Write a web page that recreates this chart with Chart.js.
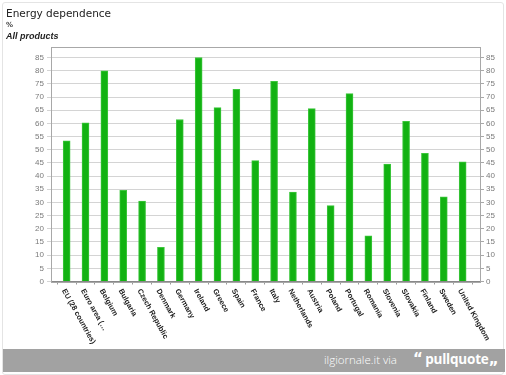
<!DOCTYPE html>
<html>
<head>
<meta charset="utf-8">
<script src="https://cdn.jsdelivr.net/npm/chart.js@4/dist/chart.umd.min.js"></script>
<style>
    html, body { margin: 0; padding: 0; background: #fff; }
    #wrap { position: relative; width: 506px; height: 375px; overflow: hidden; }
    #frame { position: absolute; left: 2px; top: 2px; width: 500px; height: 371px; border: 1px solid #e4e4e4; border-radius: 3px; }
    #chart { position: absolute; left: 0; top: 0; }
    .t { position: absolute; left: 6px; color: #222; white-space: nowrap; }
    #title { top: 7px; font: 10.5px 'DejaVu Sans', sans-serif; }
    #unit { top: 21px; font: bold 7px 'DejaVu Sans', sans-serif; color: #444; }
    #sub { top: 31px; font: bold italic 9px 'Liberation Sans', sans-serif; }
    #credit { position: absolute; left: 3px; top: 349px; width: 502px; height: 23px; background: #a2a2a2; color: #fff; white-space: nowrap; }
    #credit .via { position: absolute; left: 321px; top: 3px; font: 300 11.5px 'Open Sans', sans-serif; }
    #credit .pq { position: absolute; left: 410px; top: 1px; font: bold 13.5px 'Open Sans', sans-serif; letter-spacing: -0.2px; }
    #credit .q { font: 900 15px 'DejaVu Sans', sans-serif; letter-spacing: -1px; }
</style>
</head>
<body>
<div id="wrap">
    <div id="frame"></div>
    <canvas id="chart" width="506" height="349"></canvas>
    <div class="t" id="title">Energy dependence</div>
    <div class="t" id="unit">%</div>
    <div class="t" id="sub">All products</div>
    <div id="credit"><span class="via">ilgiornale.it via</span><span class="pq"><span class="q">“</span> pullquote<span class="q">„</span></span></div>
</div>
<script>
const countries = [
    'EU (28 countries)', 'Euro area (…', 'Belgium', 'Bulgaria', 'Czech Republic', 'Denmark',
    'Germany', 'Ireland', 'Greece', 'Spain', 'France', 'Italy', 'Netherlands', 'Austria',
    'Poland', 'Portugal', 'Romania', 'Slovenia', 'Slovakia', 'Finland', 'Sweden', 'United Kingdom'
];
const dependence = [
    53.4, 60.2, 80.0, 34.6, 30.5, 13.0,
    61.5, 85.0, 66.0, 72.9, 45.9, 76.0, 33.9, 65.6,
    28.8, 71.3, 17.3, 44.6, 60.8, 48.6, 32.1, 45.4
];
const yTicks = [0, 5, 10, 15, 20, 25, 30, 35, 40, 45, 50, 55, 60, 65, 70, 75, 80, 85];

const tickFont = { family: 'Liberation Sans', size: 8 };

const frameAndLabels = {
    id: 'frameAndLabels',
    afterDraw(chart) {
        const { ctx, chartArea: a } = chart;
        const x = chart.scales.x;
        ctx.save();
        ctx.strokeStyle = '#a8a8a8';
        ctx.lineWidth = 1;
        ctx.strokeRect(Math.round(a.left) + 0.5, Math.round(a.top) + 0.5,
            Math.round(a.right - a.left), Math.round(a.bottom - a.top));
        ctx.fillStyle = '#1a1a1a';
        ctx.font = 'bold 7.5px "Liberation Sans"';
        ctx.textAlign = 'left';
        ctx.textBaseline = 'middle';
        countries.forEach((name, i) => {
            const px = x.getPixelForValue(i);
            ctx.save();
            ctx.translate(px - 3, a.bottom + 8);
            ctx.rotate(61 * Math.PI / 180);
            ctx.fillText(name, 0, 0);
            ctx.restore();
        });
        ctx.restore();
    }
};

new Chart(document.getElementById('chart'), {
    type: 'bar',
    data: {
        datasets: [{
            data: dependence.map((v, i) => ({ x: i, y: v })),
            backgroundColor: '#12b212',
            borderColor: '#3cc63c',
            borderWidth: 1,
            borderSkipped: 'bottom',
            barThickness: 7,
        }],
    },
    options: {
        responsive: false,
        animation: false,
        layout: { padding: { top: 47, left: 0, right: 0, bottom: 0 } },
        plugins: {
            legend: { display: false },
            tooltip: { enabled: false },
        },
        scales: {
            x: {
                type: 'linear',
                offset: false,
                min: -0.83,
                max: 21.92,
                afterBuildTicks: (s) => { s.ticks = countries.map((_, i) => ({ value: i })); },
                afterFit: (s) => { s.height = 67.5; },
                ticks: { display: false },
                grid: { drawOnChartArea: false, tickLength: 3, color: '#999' },
                border: { color: '#888' },
            },
            y: {
                position: 'left',
                min: 0,
                max: 89,
                afterBuildTicks: (s) => { s.ticks = yTicks.map((v) => ({ value: v })); },
                afterFit: (s) => { s.width = 51; },
                ticks: { color: '#7a7a7a', font: tickFont, padding: 3 },
                grid: { color: '#d4d4d4', tickLength: 4 },
                border: { color: '#a8a8a8' },
            },
            y2: {
                position: 'right',
                min: 0,
                max: 89,
                afterBuildTicks: (s) => { s.ticks = yTicks.map((v) => ({ value: v })); },
                afterFit: (s) => { s.width = 26; },
                ticks: { color: '#7a7a7a', font: tickFont, padding: 2 },
                grid: { drawOnChartArea: false, color: '#a8a8a8', tickLength: 4 },
                border: { color: '#a8a8a8' },
            },
        },
    },
    plugins: [frameAndLabels],
});
</script>
</body>
</html>
